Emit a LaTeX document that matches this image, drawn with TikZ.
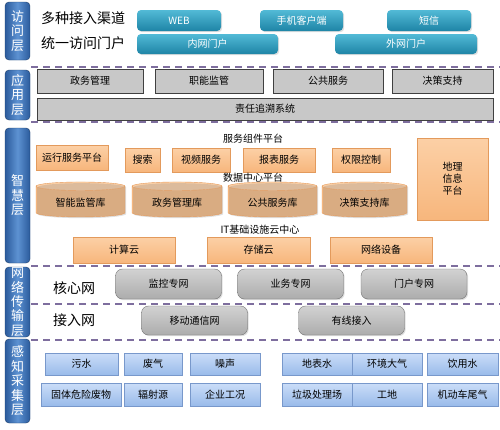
\documentclass[tikz,border=0pt]{standalone}
\usepackage{fontspec}
\setmainfont{Noto Sans CJK SC}
\usepackage{xcolor}
\usetikzlibrary{positioning, shapes.geometric, shadows, calc}

\definecolor{barblue}{HTML}{2B5B9C}
\definecolor{barlight}{HTML}{5D92D2}
\definecolor{tealtop}{HTML}{52BAD6}
\definecolor{tealbot}{HTML}{1E84A6}
\definecolor{appgrey}{HTML}{C8C8C8}
\definecolor{orangetop}{HTML}{FCD0A6}
\definecolor{orangebot}{HTML}{F7B67C}
\definecolor{orangeline}{HTML}{E39A5C}
\definecolor{nettop}{HTML}{D2D2D2}
\definecolor{netbot}{HTML}{ACACAC}
\definecolor{sensetop}{HTML}{CBDDF8}
\definecolor{sensebot}{HTML}{99BBEA}
\definecolor{senseline}{HTML}{7898CB}
\definecolor{sepline}{HTML}{7E6E9E}

\tikzset{
  tier/.style={
    draw=barblue!70!black, rounded corners=4pt,
    left color=barblue, right color=barblue, middle color=barlight,
    minimum width=25pt, text=white, align=center, inner sep=0pt,
    font=\fontsize{13}{14.5}\selectfont
  },
  shade/.style={drop shadow={opacity=0.25, shadow xshift=1.2pt, shadow yshift=-1.2pt}},
  portal/.style={
    shade, rounded corners=4pt, top color=tealtop, bottom color=tealbot,
    minimum height=21pt, text=white, font=\fontsize{10}{12}\selectfont
  },
  appbox/.style={
    shade, draw=black!75, fill=appgrey, minimum height=24pt,
    font=\fontsize{10}{12}\selectfont
  },
  svcbox/.style={
    shade, draw=orangeline, top color=orangetop, bottom color=orangebot,
    minimum height=24pt, font=\fontsize{10}{12}\selectfont, align=center
  },
  dbcyl/.style={
    shade, cylinder, shape border rotate=90, aspect=0.15, draw=orangeline,
    cylinder uses custom fill, cylinder body fill=orangebot!80!orangetop,
    cylinder end fill=orangetop, minimum height=35pt,
    font=\fontsize{10}{12}\selectfont
  },
  netbox/.style={
    shade, draw=black!55, rounded corners=7pt, top color=nettop, bottom color=netbot,
    minimum width=106pt, font=\fontsize{10}{12}\selectfont
  },
  sensebox/.style={
    shade, draw=senseline, top color=sensetop, bottom color=sensebot,
    font=\fontsize{10}{12}\selectfont
  },
  heading/.style={font=\fontsize{14}{16}\selectfont},
  caption/.style={font=\fontsize{10}{12}\selectfont}
}

\begin{document}
\begin{tikzpicture}[x=1pt, y=-1pt,
  sepdash/.style={draw=sepline, line width=2.2pt, dash pattern=on 7pt off 5pt}
]
\useasboundingbox[fill=white] (0,0) rectangle (500,429);

%% Layer separators
\foreach \yy in {67,122,266,304,340}
  \draw[sepdash] (31,\yy) -- (500,\yy);

%% Layer bars
\node[tier, minimum height=58pt] (tacc) at (17.5,31) {访\\问\\层};
\node[tier, minimum height=50pt] (tapp) at (17.5,95) {应\\用\\层};
\node[tier, minimum height=135pt] (twis) at (17.5,195.5) {智\\慧\\层};
\node[tier, minimum height=70pt] (tnet) at (17.5,302) {网\\络\\传\\输\\层};
\node[tier, minimum height=84pt] (tsen) at (17.5,381) {感\\知\\采\\集\\层};

%% Access layer
\node[heading] (chan) at (83,18) {多种接入渠道};
\node[heading] (gate) at (83,43) {统一访问门户};
\node[portal, minimum width=84pt] (web) at (179,20.5) {WEB};
\node[portal, minimum width=83pt] (mob) at (301.5,20.5) {手机客户端};
\node[portal, minimum width=84pt] (sms) at (429,20.5) {短信};
\node[portal, minimum width=141pt, minimum height=20pt] (intra) at (207.5,44) {内网门户};
\node[portal, minimum width=142pt, minimum height=20pt] (extra) at (406,44) {外网门户};

%% Application layer
\node[appbox, minimum width=106pt] (gov) at (90,81) {政务管理};
\node[appbox, minimum width=108pt] (sup) at (209,81) {职能监管};
\node[appbox, minimum width=110pt] (pub) at (328,81) {公共服务};
\node[appbox, minimum width=101pt] (dec) at (442.5,81) {决策支持};
\node[appbox, minimum width=456pt, minimum height=22pt] (trace) at (265,109) {责任追溯系统};

%% Wisdom layer -- service components
\node[caption] (svc) at (253,139) {服务组件平台};
\node[svcbox, minimum width=72pt, minimum height=25pt] (run) at (72,157.5) {运行服务平台};
\node[svcbox, minimum width=35pt] (search) at (142.5,160) {搜索};
\node[svcbox, minimum width=58pt] (video) at (201,160) {视频服务};
\node[svcbox, minimum width=72pt] (report) at (279,160) {报表服务};
\node[svcbox, minimum width=58pt] (auth) at (361,160) {权限控制};
\node[svcbox, minimum width=71pt, minimum height=82pt] (gis) at (452.5,179) {地理\\信息\\平台};

%% Wisdom layer -- data centre
\node[caption] (dc) at (253,178) {数据中心平台};
\node[dbcyl, minimum width=89pt] (db1) at (80.5,202.5) {智能监管库};
\node[dbcyl, minimum width=90pt] (db2) at (177,202.5) {政务管理库};
\node[dbcyl, minimum width=89pt] (db3) at (272.5,202.5) {公共服务库};
\node[dbcyl, minimum width=85pt] (db4) at (364.5,202.5) {决策支持库};

%% Wisdom layer -- cloud
\node[caption] (it) at (260,230) {IT基础设施云中心};
\node[svcbox, minimum width=102pt, minimum height=26pt] (calc) at (124,250) {计算云};
\node[svcbox, minimum width=103pt, minimum height=26pt] (store) at (258.5,250) {存储云};
\node[svcbox, minimum width=102pt, minimum height=26pt] (netdev) at (381,250) {网络设备};

%% Network layer
\node[heading] (core) at (74,288) {核心网};
\node[heading] (edge) at (74,320) {接入网};
\node[netbox, minimum height=30pt] (mon) at (168.5,284) {监控专网};
\node[netbox, minimum height=30pt] (biz) at (290.5,284) {业务专网};
\node[netbox, minimum height=30pt] (ptl) at (414,284) {门户专网};
\node[netbox, minimum height=29pt] (mobnet) at (194.5,320.5) {移动通信网};
\node[netbox, minimum height=29pt] (wire) at (351.5,320.5) {有线接入};

%% Perception layer
\node[sensebox, minimum width=73pt, minimum height=22pt] (s1) at (81.5,364) {污水};
\node[sensebox, minimum width=58pt, minimum height=22pt] (s2) at (153,364) {废气};
\node[sensebox, minimum width=70pt, minimum height=22pt] (s3) at (225,364) {噪声};
\node[sensebox, minimum width=70pt, minimum height=22pt] (s4) at (317,364) {地表水};
\node[sensebox, minimum width=70pt, minimum height=22pt] (s5) at (387,364) {环境大气};
\node[sensebox, minimum width=71pt, minimum height=22pt] (s6) at (462.5,364) {饮用水};
\node[sensebox, minimum width=80pt, minimum height=23pt] (s7) at (81,394.5) {固体危险废物};
\node[sensebox, minimum width=58pt, minimum height=23pt] (s8) at (153,394.5) {辐射源};
\node[sensebox, minimum width=70pt, minimum height=23pt] (s9) at (225,394.5) {企业工况};
\node[sensebox, minimum width=70pt, minimum height=23pt] (s10) at (317,394.5) {垃圾处理场};
\node[sensebox, minimum width=70pt, minimum height=23pt] (s11) at (387,394.5) {工地};
\node[sensebox, minimum width=71pt, minimum height=23pt] (s12) at (462.5,394.5) {机动车尾气};

\end{tikzpicture}
\end{document}
